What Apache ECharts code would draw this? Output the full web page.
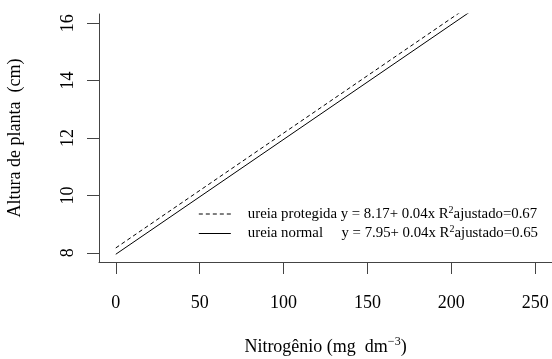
<!DOCTYPE html>
<html>
<head>
<meta charset="utf-8">
<script src="https://cdn.jsdelivr.net/npm/echarts@6/dist/echarts.min.js"></script>
<style>
  html, body { margin: 0; padding: 0; background: #fff; }
  #chart { width: 552px; height: 359px; }
</style>
</head>
<body>
<div id="chart"></div>
<script>
// dados (extremos das retas ajustadas)
var doses = [0, 250];
var protegida = [8.17, 18.17];
var normal = [7.95, 17.95];
var xTicks = [0, 50, 100, 150, 200, 250];
var yTicks = [8, 10, 12, 14, 16];

var fonte = '"Liberation Serif", "DejaVu Serif", serif';

var myChart = echarts.init(document.getElementById('chart'));

var option = {
    animation: false,
    textStyle: { fontFamily: fonte, color: '#000' },
    grid: { left: 99, right: 0, top: 14, bottom: 97, outerBoundsMode: 'none', containLabel: false },
    xAxis: {
        type: 'value',
        min: -10,
        max: 260,
        name: '{t|Nitrogênio (mg  dm}{s|−3}{t|)}',
        nameLocation: 'middle',
        nameGap: 74,
        nameTextStyle: {
            rich: {
                t: { fontFamily: fonte, fontSize: 18, color: '#000' },
                s: { fontFamily: fonte, fontSize: 12, color: '#000', verticalAlign: 'top', padding: [0, 0, 10, 0] }
            }
        },
        axisLine: { show: true, onZero: false, lineStyle: { color: '#444', width: 1 } },
        axisTick: { show: true, length: 12, customValues: xTicks, lineStyle: { color: '#444' } },
        axisLabel: { customValues: xTicks, fontSize: 18, margin: 32, color: '#000', fontFamily: fonte },
        splitLine: { show: false }
    },
    yAxis: {
        type: 'value',
        min: 7.68,
        max: 16.32,
        name: 'Altura de planta  (cm)',
        nameLocation: 'middle',
        nameGap: 75,
        nameTextStyle: { fontSize: 18, color: '#000', fontFamily: fonte },
        axisLine: { show: true, onZero: false, lineStyle: { color: '#444', width: 1 } },
        axisTick: { show: true, length: 12, customValues: yTicks, lineStyle: { color: '#444' } },
        axisLabel: { customValues: yTicks, fontSize: 18, margin: 22, rotate: 90, color: '#000', fontFamily: fonte },
        splitLine: { show: false }
    },
    legend: {
        orient: 'vertical',
        right: 9,
        top: 200,
        itemWidth: 32,
        itemHeight: 10,
        itemGap: 3,
        data: ['ureia protegida', 'ureia normal'],
        itemStyle: { color: 'transparent', borderWidth: 0 },
        lineStyle: { width: 1 },
        formatter: function (name) {
            if (name === 'ureia protegida') {
                return '{p|ureia protegida y = 8.17+ 0.04x R}{s|2}{t|ajustado=0.67}';
            }
            return '{p|ureia normal     y = 7.95+ 0.04x R}{s|2}{t|ajustado=0.65}';
        },
        textStyle: {
            rich: {
                p: { fontFamily: fonte, fontSize: 14.8, color: '#000', padding: [0, 0, 0, 12] },
                t: { fontFamily: fonte, fontSize: 14.8, color: '#000' },
                s: { fontFamily: fonte, fontSize: 10, color: '#000', verticalAlign: 'top', padding: [0, 0, 8, 0] }
            }
        }
    },
    series: [
        {
            name: 'ureia protegida',
            type: 'line',
            symbol: 'none',
            clip: true,
            lineStyle: { color: '#000', width: 1, type: [4, 3] },
            itemStyle: { color: '#000' },
            data: doses.map(function (d, i) { return [d, protegida[i]]; })
        },
        {
            name: 'ureia normal',
            type: 'line',
            symbol: 'none',
            clip: true,
            lineStyle: { color: '#000', width: 1 },
            itemStyle: { color: '#000' },
            data: doses.map(function (d, i) { return [d, normal[i]]; })
        }
    ]
};

myChart.setOption(option);
</script>
</body>
</html>
